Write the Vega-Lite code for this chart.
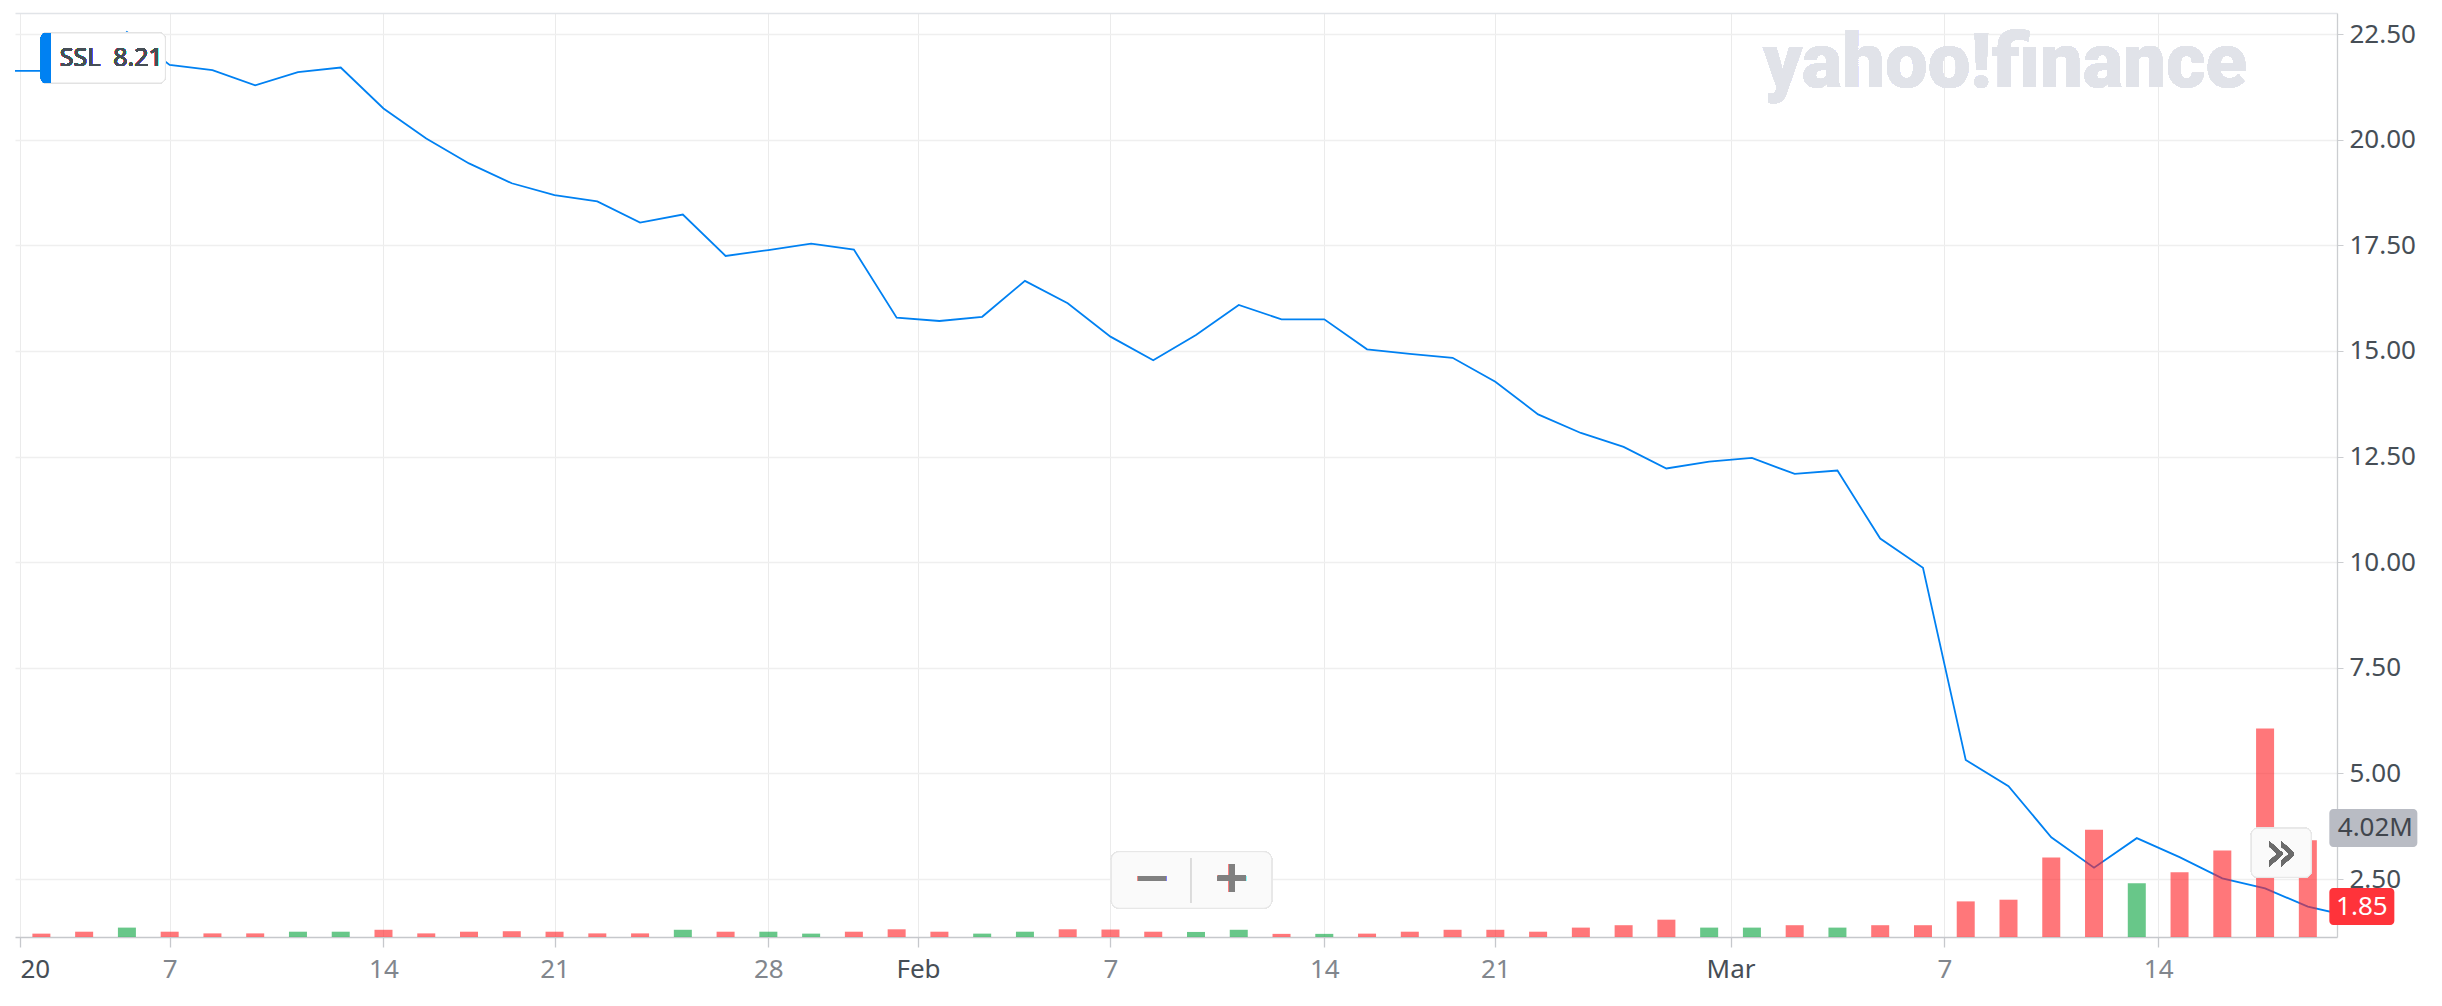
{
  "$schema": "https://vega.github.io/schema/vega-lite/v6.json",
  "width": 2322,
  "height": 924,
  "autosize": {"type": "none"},
  "padding": {"left": 15, "top": 13, "right": 105, "bottom": 69},
  "background": "white",
  "data": {
    "values": [
      {"date": "2019-12-31", "close": 21.63, "volume": null, "dir": null},
      {"date": "2020-01-02", "close": 21.63, "volume": 140000, "dir": "down"},
      {"date": "2020-01-03", "close": 21.45, "volume": 220000, "dir": "down"},
      {"date": "2020-01-06", "close": 22.55, "volume": 390000, "dir": "up"},
      {"date": "2020-01-07", "close": 21.77, "volume": 220000, "dir": "down"},
      {"date": "2020-01-08", "close": 21.65, "volume": 150000, "dir": "down"},
      {"date": "2020-01-09", "close": 21.29, "volume": 150000, "dir": "down"},
      {"date": "2020-01-10", "close": 21.60, "volume": 220000, "dir": "up"},
      {"date": "2020-01-13", "close": 21.71, "volume": 220000, "dir": "up"},
      {"date": "2020-01-14", "close": 20.74, "volume": 300000, "dir": "down"},
      {"date": "2020-01-15", "close": 20.03, "volume": 150000, "dir": "down"},
      {"date": "2020-01-16", "close": 19.44, "volume": 220000, "dir": "down"},
      {"date": "2020-01-17", "close": 18.97, "volume": 240000, "dir": "down"},
      {"date": "2020-01-21", "close": 18.69, "volume": 220000, "dir": "down"},
      {"date": "2020-01-22", "close": 18.54, "volume": 150000, "dir": "down"},
      {"date": "2020-01-23", "close": 18.04, "volume": 150000, "dir": "down"},
      {"date": "2020-01-24", "close": 18.23, "volume": 300000, "dir": "up"},
      {"date": "2020-01-27", "close": 17.25, "volume": 220000, "dir": "down"},
      {"date": "2020-01-28", "close": 17.39, "volume": 220000, "dir": "up"},
      {"date": "2020-01-29", "close": 17.54, "volume": 140000, "dir": "up"},
      {"date": "2020-01-30", "close": 17.40, "volume": 220000, "dir": "down"},
      {"date": "2020-01-31", "close": 15.79, "volume": 320000, "dir": "down"},
      {"date": "2020-02-03", "close": 15.71, "volume": 220000, "dir": "down"},
      {"date": "2020-02-04", "close": 15.81, "volume": 140000, "dir": "up"},
      {"date": "2020-02-05", "close": 16.66, "volume": 220000, "dir": "up"},
      {"date": "2020-02-06", "close": 16.13, "volume": 320000, "dir": "down"},
      {"date": "2020-02-07", "close": 15.34, "volume": 310000, "dir": "down"},
      {"date": "2020-02-10", "close": 14.78, "volume": 220000, "dir": "down"},
      {"date": "2020-02-11", "close": 15.38, "volume": 210000, "dir": "up"},
      {"date": "2020-02-12", "close": 16.09, "volume": 300000, "dir": "up"},
      {"date": "2020-02-13", "close": 15.75, "volume": 130000, "dir": "down"},
      {"date": "2020-02-14", "close": 15.75, "volume": 130000, "dir": "up"},
      {"date": "2020-02-18", "close": 15.04, "volume": 140000, "dir": "down"},
      {"date": "2020-02-19", "close": 14.93, "volume": 220000, "dir": "down"},
      {"date": "2020-02-20", "close": 14.84, "volume": 300000, "dir": "down"},
      {"date": "2020-02-21", "close": 14.27, "volume": 300000, "dir": "down"},
      {"date": "2020-02-24", "close": 13.50, "volume": 220000, "dir": "down"},
      {"date": "2020-02-25", "close": 13.06, "volume": 390000, "dir": "down"},
      {"date": "2020-02-26", "close": 12.73, "volume": 490000, "dir": "down"},
      {"date": "2020-02-27", "close": 12.22, "volume": 720000, "dir": "down"},
      {"date": "2020-02-28", "close": 12.38, "volume": 390000, "dir": "up"},
      {"date": "2020-03-02", "close": 12.47, "volume": 390000, "dir": "up"},
      {"date": "2020-03-03", "close": 12.09, "volume": 490000, "dir": "down"},
      {"date": "2020-03-04", "close": 12.17, "volume": 390000, "dir": "up"},
      {"date": "2020-03-05", "close": 10.56, "volume": 490000, "dir": "down"},
      {"date": "2020-03-06", "close": 9.87, "volume": 490000, "dir": "down"},
      {"date": "2020-03-09", "close": 5.32, "volume": 1480000, "dir": "down"},
      {"date": "2020-03-10", "close": 4.70, "volume": 1550000, "dir": "down"},
      {"date": "2020-03-11", "close": 3.49, "volume": 3300000, "dir": "down"},
      {"date": "2020-03-12", "close": 2.77, "volume": 4460000, "dir": "down"},
      {"date": "2020-03-13", "close": 3.47, "volume": 2230000, "dir": "up"},
      {"date": "2020-03-16", "close": 3.02, "volume": 2690000, "dir": "down"},
      {"date": "2020-03-17", "close": 2.52, "volume": 3590000, "dir": "down"},
      {"date": "2020-03-18", "close": 2.28, "volume": 8660000, "dir": "down"},
      {"date": "2020-03-19", "close": 1.85, "volume": 4020000, "dir": "down"},
      {"date": "2020-03-20", "close": 1.62, "volume": null, "dir": null}
    ]
  },
  "transform": [{"window": [{"op": "row_number", "as": "n"}]}],
  "layer": [
    {
      "layer": [
        {
          "mark": {"type": "text", "text": "yahoo!finance", "font": "Roboto", "fontSize": 76, "fontWeight": 900, "color": "#e1e3e9", "align": "center", "baseline": "alphabetic"},
          "encoding": {
            "x": {"datum": 47.917, "type": "quantitative", "scale": {"domain": [1.5, 55.565], "nice": false, "zero": false}},
            "y": {"datum": 21.249, "type": "quantitative", "scale": {"domain": [1.13, 23.0], "nice": false, "zero": false}}
          }
        },
        {
          "mark": {"type": "line", "color": "#0081f2", "strokeWidth": 1.8, "clip": true, "interpolate": "linear"},
          "encoding": {
            "x": {
              "field": "n",
              "type": "quantitative",
              "scale": {"domain": [1.5, 55.565], "nice": false, "zero": false},
              "axis": {
                "orient": "bottom",
                "title": null,
                "values": [1.5, 5, 10, 14, 19, 22.5, 27, 32, 36, 41.5, 46.5, 51.5],
                "labelExpr": "['20','7','14','21','28','Feb','7','14','21','Mar','7','14'][indexof([1.5,5,10,14,19,22.5,27,32,36,41.5,46.5,51.5], datum.value)]",
                "labelFont": "Noto Sans",
                "labelFontSize": 26,
                "labelColor": {"condition": {"test": "datum.value == 1.5 || datum.value == 22.5 || datum.value == 41.5", "value": "#464e56"}, "value": "#81868d"},
                "labelAlign": {"condition": {"test": "datum.value == 1.5", "value": "left"}, "value": "center"},
                "labelBaseline": "top",
                "labelPadding": 9,
                "labelOverlap": false,
                "labelFlush": false,
                "labelBound": false,
                "grid": true,
                "gridColor": "#ebebeb",
                "gridWidth": 1,
                "domainColor": "#c6c8cc",
                "domainWidth": 1.5,
                "tickColor": "#c6c8cc",
                "tickWidth": 1.3,
                "tickSize": 10
              }
            },
            "y": {
              "field": "close",
              "type": "quantitative",
              "scale": {"domain": [1.13, 23.0], "nice": false, "zero": false},
              "axis": {
                "orient": "right",
                "title": null,
                "values": [2.5, 5, 7.5, 10, 12.5, 15, 17.5, 20, 22.5],
                "format": ".2f",
                "labelFont": "Noto Sans",
                "labelFontSize": 26,
                "labelColor": "#464e56",
                "labelPadding": 6,
                "labelBaseline": "middle",
                "grid": true,
                "gridColor": "#efefef",
                "gridWidth": 1.3,
                "domainColor": "#cbcdd0",
                "domainWidth": 1.3,
                "tickColor": "#cbcdd0",
                "tickSize": 6
              }
            }
          }
        }
      ]
    },
    {
      "layer": [
        {
          "mark": {"type": "bar", "size": 18, "clip": true, "fillOpacity": 0.62},
          "encoding": {
            "x": {
              "field": "n",
              "type": "quantitative",
              "scale": {"domain": [1.5, 55.565], "nice": false, "zero": false},
              "axis": {"orient": "top", "labels": false, "ticks": false, "grid": false, "domainColor": "#e1e4e8", "domainWidth": 1.5, "title": null}
            },
            "y": {
              "field": "volume",
              "type": "quantitative",
              "scale": {"domain": [0, 38400000], "nice": false},
              "axis": null
            },
            "fill": {
              "field": "dir",
              "type": "nominal",
              "scale": {"domain": ["up", "down"], "range": ["#0ba541", "#ff2328"]},
              "legend": null
            }
          }
        },
        {
          "transform": [{"filter": "datum.date == '2020-03-19'"}],
          "mark": {"type": "rect", "color": "#b9bcc4", "cornerRadius": 4, "xOffset": 21.5, "x2Offset": 109.5, "yOffset": -31.3, "y2Offset": 6.7},
          "encoding": {
            "x": {"field": "n", "type": "quantitative"},
            "x2": {"field": "n"},
            "y": {"field": "volume", "type": "quantitative"},
            "y2": {"field": "volume"}
          }
        },
        {
          "transform": [{"filter": "datum.date == '2020-03-19'"}],
          "mark": {"type": "text", "font": "Noto Sans", "fontSize": 26, "color": "#41464d", "dx": 67.5, "dy": -12.3, "align": "center", "baseline": "middle"},
          "encoding": {
            "x": {"field": "n", "type": "quantitative"},
            "y": {"field": "volume", "type": "quantitative"},
            "text": {"field": "volume", "type": "quantitative", "format": ".3s"}
          }
        }
      ]
    },
    {
      "layer": [
        {
          "mark": {"type": "rect", "fill": "white", "stroke": "#e2e2e2", "strokeWidth": 1, "cornerRadius": 6},
          "encoding": {
            "x": {"datum": 1.989, "type": "quantitative", "scale": {"domain": [1.5, 55.565], "nice": false, "zero": false}, "axis": null},
            "x2": {"datum": 4.9},
            "y": {"datum": 22.527, "type": "quantitative", "scale": {"domain": [1.13, 23.0], "nice": false, "zero": false}, "axis": null},
            "y2": {"datum": 21.343}
          }
        },
        {
          "mark": {"type": "rect", "fill": "#0081f2", "cornerRadiusTopLeft": 6, "cornerRadiusBottomLeft": 6},
          "encoding": {
            "x": {"datum": 1.989, "type": "quantitative"},
            "x2": {"datum": 2.222},
            "y": {"datum": 22.527, "type": "quantitative"},
            "y2": {"datum": 21.343}
          }
        },
        {
          "mark": {"type": "text", "text": "SSL\u00a0 8.21", "font": "Noto Sans", "fontSize": 25, "fontWeight": "normal", "color": "#464e56", "align": "left", "baseline": "middle"},
          "encoding": {
            "x": {"datum": 2.43, "type": "quantitative"},
            "y": {"datum": 21.935, "type": "quantitative"}
          }
        },
        {
          "mark": {"type": "rect", "fill": "#fafafa", "stroke": "#e6e6e6", "strokeWidth": 1, "cornerRadius": 8},
          "encoding": {
            "x": {"datum": 27.02, "type": "quantitative"},
            "x2": {"datum": 30.77},
            "y": {"datum": 3.149, "type": "quantitative"},
            "y2": {"datum": 1.81}
          }
        },
        {
          "mark": {"type": "rule", "color": "#dcdcdc", "strokeWidth": 1.5},
          "encoding": {
            "x": {"datum": 28.88, "type": "quantitative"},
            "y": {"datum": 3.0, "type": "quantitative"},
            "y2": {"datum": 1.935}
          }
        },
        {
          "mark": {"type": "text", "text": "\u2212", "font": "DejaVu Sans", "fontSize": 44, "fontWeight": "bold", "color": "#808080", "align": "center", "baseline": "middle"},
          "encoding": {
            "x": {"datum": 27.974, "type": "quantitative"},
            "y": {"datum": 2.503, "type": "quantitative"}
          }
        },
        {
          "mark": {"type": "text", "text": "+", "font": "DejaVu Sans", "fontSize": 44, "fontWeight": "bold", "color": "#808080", "align": "center", "baseline": "middle"},
          "encoding": {
            "x": {"datum": 29.837, "type": "quantitative"},
            "y": {"datum": 2.503, "type": "quantitative"}
          }
        },
        {
          "mark": {"type": "rect", "fill": "#fafafa", "stroke": "#e6e6e6", "strokeWidth": 1, "cornerRadius": 6},
          "encoding": {
            "x": {"datum": 53.68, "type": "quantitative"},
            "x2": {"datum": 55.077},
            "y": {"datum": 3.703, "type": "quantitative"},
            "y2": {"datum": 2.543}
          }
        },
        {
          "mark": {"type": "text", "text": "\u00bb", "font": "DejaVu Sans", "fontSize": 56, "fontWeight": "normal", "color": "#6b6b6b", "align": "center", "baseline": "middle"},
          "encoding": {
            "x": {"datum": 54.378, "type": "quantitative"},
            "y": {"datum": 3.123, "type": "quantitative"}
          }
        },
        {
          "transform": [{"filter": "datum.date == '2020-03-19'"}],
          "mark": {"type": "rect", "color": "#ff333a", "cornerRadius": 4, "xOffset": 21.5, "x2Offset": 86.5, "yOffset": -18.5, "y2Offset": 18.5},
          "encoding": {
            "x": {"field": "n", "type": "quantitative"},
            "x2": {"field": "n"},
            "y": {"field": "close", "type": "quantitative"},
            "y2": {"field": "close"}
          }
        },
        {
          "transform": [{"filter": "datum.date == '2020-03-19'"}],
          "mark": {"type": "text", "font": "Noto Sans", "fontSize": 26, "color": "white", "dx": 54, "align": "center", "baseline": "middle"},
          "encoding": {
            "x": {"field": "n", "type": "quantitative"},
            "y": {"field": "close", "type": "quantitative"},
            "text": {"field": "close", "type": "quantitative", "format": ".2f"}
          }
        }
      ]
    }
  ],
  "resolve": {"scale": {"y": "independent"}, "axis": {"x": "independent", "y": "independent"}},
  "config": {
    "view": {"stroke": null},
    "font": "Noto Sans"
  }
}
